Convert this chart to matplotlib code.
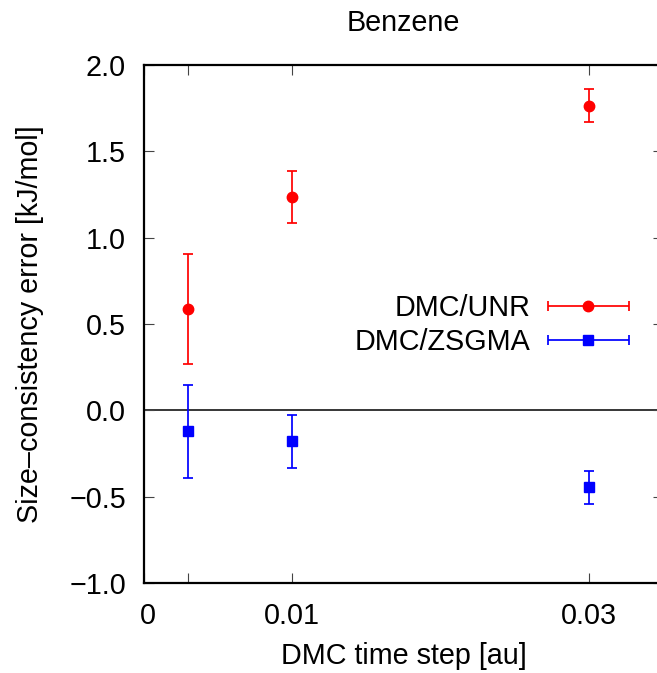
import matplotlib
matplotlib.use("Agg")
import matplotlib.pyplot as plt
import matplotlib.transforms as mtransforms
from matplotlib.container import ErrorbarContainer
from matplotlib.legend_handler import HandlerErrorbar

# Data
time_step = [0.003, 0.01, 0.03]
unr_values = [0.586, 1.234, 1.764]
unr_errors = [0.32, 0.15, 0.095]
zsgma_values = [-0.122, -0.180, -0.446]
zsgma_errors = [0.267, 0.152, 0.097]

xtick_positions = [0, 0.003, 0.01, 0.03]
xtick_labels = ["0", "", "0.01", "0.03"]
ytick_positions = [-1.0, -0.5, 0.0, 0.5, 1.0, 1.5, 2.0]

plt.rcParams['font.family'] = ['Liberation Sans', 'DejaVu Sans']
plt.rcParams['axes.unicode_minus'] = True
FS = 20.7

W, H = 657, 673
fig = plt.figure(figsize=(W / 100, H / 100), dpi=100)
left_px, right_px, top_px, bottom_px = 143.5, 663.3, 65.0, 583.0
ax = fig.add_axes([left_px / W, 1 - bottom_px / H, (right_px - left_px) / W, (bottom_px - top_px) / H])

ms_lw = 1.25
unr = ax.errorbar(time_step, unr_values, yerr=unr_errors, fmt='o', color='#ff0000',
                  ms=7.5, elinewidth=ms_lw, capsize=3.6, capthick=ms_lw, label='DMC/UNR')
zs = ax.errorbar(time_step, zsgma_values, yerr=zsgma_errors, fmt='s', color='#0000ff',
                 ms=7.7, elinewidth=ms_lw, capsize=3.6, capthick=ms_lw, label='DMC/ZSGMA')

ax.axhline(0, color='black', lw=1.1, zorder=1)

ax.set_xlim(0, 0.035)
ax.set_ylim(-1.0, 2.0)
ax.set_xticks(xtick_positions)
ax.set_xticklabels(xtick_labels)
ax.set_yticks(ytick_positions)
ax.set_yticklabels([f"{v:.1f}".replace('-', '\u2212') for v in ytick_positions])

ax.tick_params(direction='in', length=7.2, width=0.8, color='#444444',
               top=True, right=True, labelsize=FS)
ax.tick_params(axis='x', pad=13.5)
ax.tick_params(axis='y', pad=12.6)
for sp in ax.spines.values():
    sp.set_linewidth(1.6)

# gnuplot places the "0" label a touch right of the axis line
first = ax.get_xticklabels()[0]
first.set_transform(first.get_transform() + mtransforms.ScaledTranslation(4 / 100, 0, fig.dpi_scale_trans))

ax.set_xlabel("DMC time step [au]", fontsize=FS, labelpad=9)
ax.set_ylabel("Size\u2013consistency error [kJ/mol]", fontsize=FS, labelpad=18)
ax.set_title("Benzene", fontsize=FS, pad=24.5)

# Legend with horizontal error bars like gnuplot
handles = []
for c in (unr, zs):
    line, caps, bars = c.lines
    handles.append(ErrorbarContainer((line, caps, bars), has_xerr=True, has_yerr=False,
                                     label=c.get_label()))
hl = 2.8
leg = fig.legend(handles, [h.get_label() for h in handles], loc='center right',
                 bbox_to_anchor=(628.5 / W, 1 - 325 / H), frameon=False, fontsize=FS,
                 markerfirst=False, handlelength=hl, handletextpad=0.6,
                 labelspacing=0.22, borderpad=0, borderaxespad=0, numpoints=1,
                 handler_map={ErrorbarContainer: HandlerErrorbar(xerr_size=hl / 2)})

fig.savefig("out.png", dpi=100)
